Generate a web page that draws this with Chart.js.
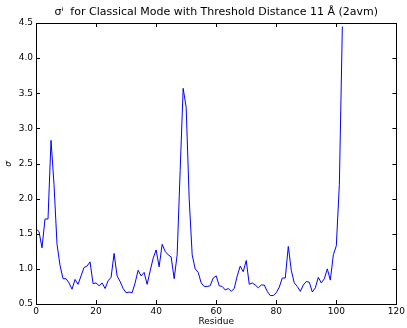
<!DOCTYPE html>
<html>
<head>
<meta charset="utf-8">
<script src="https://cdn.jsdelivr.net/npm/chart.js@4"></script>
<style>
    html, body { margin: 0; padding: 0; background: #fff; }
    #wrap { width: 407px; height: 328px; }
</style>
</head>
<body>
<div id="wrap"><canvas id="myChart" width="407" height="328"></canvas></div>
<script>
// sigma^i per residue
const residues = [];
for (let i = 0; i <= 102; i++) residues.push(i);

const sigma = [
    1.57, 1.53, 1.30, 1.71, 1.71, 2.83, 2.20, 1.35, 1.05, 0.86,
    0.86, 0.80, 0.71, 0.85, 0.78, 0.90, 1.02, 1.04, 1.10, 0.79,
    0.80, 0.76, 0.80, 0.72, 0.83, 0.88, 1.22, 0.90, 0.82, 0.72,
    0.66, 0.67, 0.66, 0.80, 0.98, 0.90, 0.95, 0.78, 0.97, 1.15,
    1.27, 1.03, 1.35, 1.25, 1.20, 1.17, 0.86, 1.20, 2.40, 3.57,
    3.30, 2.00, 1.20, 1.00, 0.95, 0.80, 0.75, 0.75, 0.76, 0.87,
    0.90, 0.76, 0.75, 0.70, 0.72, 0.68, 0.72, 0.90, 1.04, 0.96,
    1.12, 0.78, 0.80, 0.77, 0.73, 0.77, 0.77, 0.68, 0.62, 0.62,
    0.66, 0.74, 0.87, 0.87, 1.32, 0.98, 0.80, 0.75, 0.68, 0.77,
    0.82, 0.81, 0.67, 0.73, 0.88, 0.80, 0.86, 1.00, 0.84, 1.20,
    1.33, 2.20, 4.45
];

const xTicks = [0, 20, 40, 60, 80, 100, 120];
const yTicks = [0.5, 1.0, 1.5, 2.0, 2.5, 3.0, 3.5, 4.0, 4.5];

const titleText = 'σⁱ  for Classical Mode with Threshold Distance 11 Å (2avm)';
const fontFamily = '"DejaVu Sans", sans-serif';

// box + inward ticks on all four sides, matplotlib style
const framePlugin = {
    id: 'frame',
    afterDraw(chart) {
        const ctx = chart.ctx;
        const area = chart.chartArea;
        const xs = chart.scales.x;
        const ys = chart.scales.y;
        ctx.save();
        ctx.strokeStyle = '#000';
        ctx.lineWidth = 1;
        ctx.strokeRect(Math.round(area.left) + 0.5, Math.round(area.top) + 0.5,
            Math.round(area.right - area.left), Math.round(area.bottom - area.top));
        ctx.beginPath();
        xTicks.forEach((v) => {
            const px = Math.round(xs.getPixelForValue(v)) + 0.5;
            ctx.moveTo(px, area.bottom);
            ctx.lineTo(px, area.bottom - 4);
            ctx.moveTo(px, area.top);
            ctx.lineTo(px, area.top + 4);
        });
        yTicks.forEach((v) => {
            const py = Math.round(ys.getPixelForValue(v)) + 0.5;
            ctx.moveTo(area.left, py);
            ctx.lineTo(area.left + 4, py);
            ctx.moveTo(area.right, py);
            ctx.lineTo(area.right - 4, py);
        });
        ctx.stroke();

        // title
        ctx.fillStyle = '#000';
        ctx.font = '11px ' + fontFamily;
        ctx.textAlign = 'center';
        ctx.textBaseline = 'middle';
        ctx.fillText(titleText, (area.left + area.right) / 2, 12);
        ctx.restore();
    }
};

var ctx = document.getElementById('myChart').getContext('2d');
const myChart = new Chart(ctx, {
    type: 'line',
    data: {
        labels: residues,
        datasets: [{
            data: residues.map((r, i) => ({ x: r, y: sigma[i] })),
            borderColor: '#0000ff',
            borderWidth: 1,
            pointRadius: 0,
            fill: false,
            tension: 0
        }]
    },
    options: {
        responsive: false,
        animation: false,
        layout: { padding: { top: 23, right: 9, left: 0, bottom: 0 } },
        plugins: {
            legend: { display: false },
            tooltip: { enabled: false }
        },
        scales: {
            x: {
                type: 'linear',
                min: 0,
                max: 120,
                afterBuildTicks: (scale) => { scale.ticks = xTicks.map((v) => ({ value: v })); },
                afterFit: (scale) => { scale.height = 24; },
                grid: { display: false, drawTicks: false },
                border: { display: false },
                ticks: {
                    color: '#000',
                    padding: 2,
                    maxRotation: 0,
                    font: { family: fontFamily, size: 9 }
                },
                title: {
                    display: true,
                    text: 'Residue',
                    color: '#000',
                    padding: { top: 0, bottom: 1 },
                    font: { family: fontFamily, size: 9 }
                }
            },
            y: {
                min: 0.5,
                max: 4.5,
                afterBuildTicks: (scale) => { scale.ticks = yTicks.map((v) => ({ value: v })); },
                afterFit: (scale) => { scale.width = 36; },
                grid: { display: false, drawTicks: false },
                border: { display: false },
                ticks: {
                    color: '#000',
                    padding: 3,
                    font: { family: fontFamily, size: 9 },
                    callback: (v) => v.toFixed(1)
                },
                title: {
                    display: true,
                    text: 'σⁱ',
                    color: '#000',
                    padding: { top: 4, bottom: 0 },
                    font: { family: fontFamily, size: 8, style: 'italic' }
                }
            }
        }
    },
    plugins: [framePlugin]
});
</script>
</body>
</html>
